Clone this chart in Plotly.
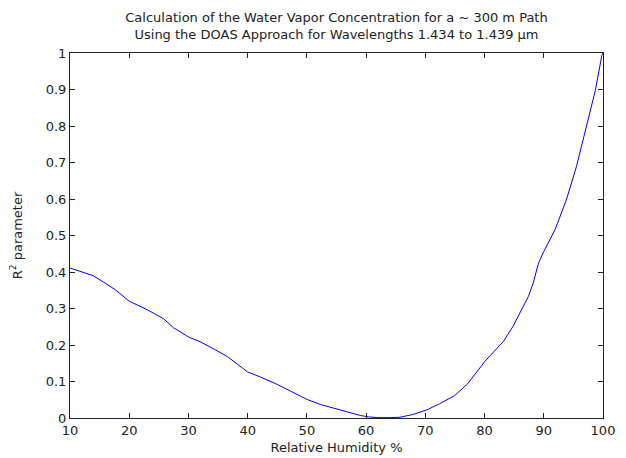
import plotly.graph_objects as go

rh = [10, 13.9, 15.6, 17.6, 20, 23, 25.8, 27.5, 30, 32.1, 34.4, 36.6, 38.3, 40, 42.2,
      45.0, 47.2, 50, 52.3, 54.5, 56.8, 59.0, 60.4, 62, 64, 65.7, 68, 70.2, 72.4,
      74.9, 77.1, 79.3, 80.1, 83.2, 84.8, 87.4, 88.2, 89.1, 90, 91.9, 93.8, 95.5,
      97.2, 98.7, 99.8, 100]
r2 = [0.411, 0.390, 0.373, 0.352, 0.320, 0.297, 0.272, 0.247, 0.222, 0.208, 0.188,
      0.168, 0.147, 0.126, 0.112, 0.092, 0.074, 0.051, 0.037, 0.027, 0.015, 0.007,
      0.003, 0.001, 0.001, 0.002, 0.010, 0.022, 0.039, 0.061, 0.093, 0.138, 0.156,
      0.210, 0.251, 0.333, 0.369, 0.424, 0.456, 0.516, 0.597, 0.688, 0.797, 0.897,
      0.993, 1.0]

x_ticks = [10, 20, 30, 40, 50, 60, 70, 80, 90, 100]
y_ticks = [0, 0.1, 0.2, 0.3, 0.4, 0.5, 0.6, 0.7, 0.8, 0.9, 1]
y_tick_text = ["0", "0.1", "0.2", "0.3", "0.4", "0.5", "0.6", "0.7", "0.8", "0.9", "1"]

FONT = "DejaVu Sans, Liberation Sans, Arial, sans-serif"
INK = "#222222"

fig = go.Figure()
fig.add_trace(go.Scatter(x=rh, y=r2, mode="lines",
                         line=dict(color="rgb(0,0,255)", width=1),
                         showlegend=False))

axis_common = dict(showgrid=False, zeroline=False, showline=True, linecolor=INK,
                   linewidth=1, mirror="ticks", ticks="inside", ticklen=5,
                   tickcolor=INK, tickfont=dict(family=FONT, size=13, color=INK),
                   automargin=False)

fig.update_layout(
    width=626, height=458,
    margin=dict(l=70, r=23, t=53, b=40),
    paper_bgcolor="white", plot_bgcolor="white",
    font=dict(family=FONT, size=13, color=INK),
    title=dict(text="Calculation of the Water Vapor Concentration for a ~ 300 m Path<br>"
                    "Using the DOAS Approach for Wavelengths 1.434 to 1.439 µm",
               x=0.5, xref="paper", xanchor="center",
               y=0.952, yref="container", yanchor="top",
               font=dict(family=FONT, size=13, color=INK)),
    xaxis=dict(range=[10, 100], tickvals=x_ticks,
               title=dict(text="Relative Humidity %", standoff=6,
                          font=dict(family=FONT, size=13, color=INK)), **axis_common),
    yaxis=dict(range=[0, 1], tickvals=y_ticks, ticktext=y_tick_text,
               title=dict(text="R<sup>2</sup> parameter", standoff=20,
                          font=dict(family=FONT, size=13, color=INK)), **axis_common),
)

fig.write_html("out.html")
